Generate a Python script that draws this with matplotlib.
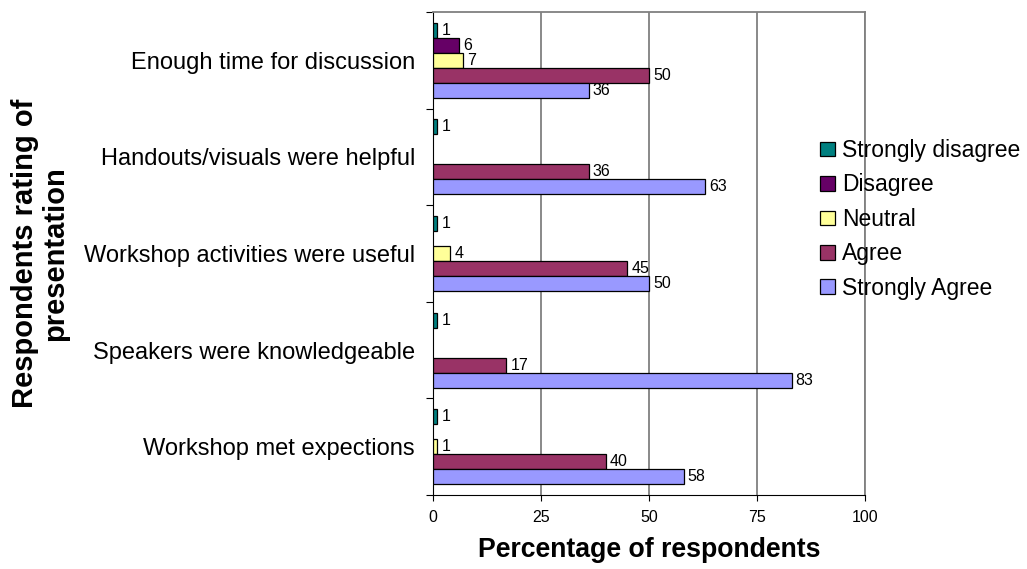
import numpy as np
import matplotlib.pyplot as plt

plt.rcParams['font.family'] = ['Liberation Sans', 'DejaVu Sans']

# survey results, percent of respondents
statements = ["Enough time for discussion", "Handouts/visuals were helpful",
              "Workshop activities were useful", "Speakers were knowledgeable",
              "Workshop met expections"]
responses = ["Strongly disagree", "Disagree", "Neutral", "Agree", "Strongly Agree"]
strongly_disagree = [1, 1, 1, 1, 1]
disagree = [6, 0, 0, 0, 0]
neutral = [7, 0, 4, 0, 1]
agree = [50, 36, 45, 17, 40]
strongly_agree = [36, 63, 50, 83, 58]
x_ticks = [0, 25, 50, 75, 100]

series = [strongly_disagree, disagree, neutral, agree, strongly_agree]
colors = ["#008080", "#660066", "#FFFF99", "#993366", "#9999FF"]

W, H = 1027, 569
fig = plt.figure(figsize=(W / 100, H / 100), dpi=100)
ax = fig.add_axes([433 / W, (H - 495) / H, 432 / W, 483 / H])

y = np.arange(len(statements))
h = 0.155
for j, (vals, col, name) in enumerate(zip(series, colors, responses)):
    pos = y + (j - 2) * h
    v = np.array(vals, dtype=float)
    keep = v > 0
    ax.barh(pos[keep], v[keep], height=h, color=col, edgecolor="black",
            linewidth=0.9, label=name, zorder=3)
    for yy, val in zip(pos[keep], v[keep]):
        ax.annotate(f"{val:g}", (val, yy), xytext=(3, 0), textcoords="offset points",
                    ha="left", va="center", fontsize=11.5, zorder=4)

ax.set_xlim(0, 100)
ax.set_ylim(4.5, -0.5)
ax.set_xticks(x_ticks)
ax.tick_params(axis="x", direction="out", length=4, width=0.8, pad=7, labelsize=11.5)

ax.set_yticks(y)
ax.set_yticklabels(statements, fontsize=17)
ax.tick_params(axis="y", which="major", length=0, pad=13)
ax.set_yticks(np.arange(-0.5, len(statements)), minor=True)
ax.tick_params(axis="y", which="minor", direction="out", length=5, width=0.8)

ax.grid(axis="x", color="#808080", linewidth=1.3, zorder=0)
ax.spines["left"].set_color("black")
ax.spines["bottom"].set_color("black")
for s in ["top", "right"]:
    ax.spines[s].set_color("#808080")
    ax.spines[s].set_linewidth(1.3)

fig.text(649 / W, (H - 557) / H, "Percentage of respondents", ha="center",
         va="baseline", fontsize=19.2, fontweight="bold")
fig.text(40 / W, 1 - 253.5 / H, "Respondents rating of\npresentation", rotation=90,
         ha="center", va="center", multialignment="center", fontsize=21,
         fontweight="bold", linespacing=1.1)

fig.legend(loc="upper left", bbox_to_anchor=(820 / W, 1 - 139 / H), frameon=False,
           fontsize=16.5, borderpad=0, borderaxespad=0, handlelength=0.66,
           handleheight=0.6, handletextpad=0.3, labelspacing=0.5)

fig.savefig("out.png", dpi=100)
